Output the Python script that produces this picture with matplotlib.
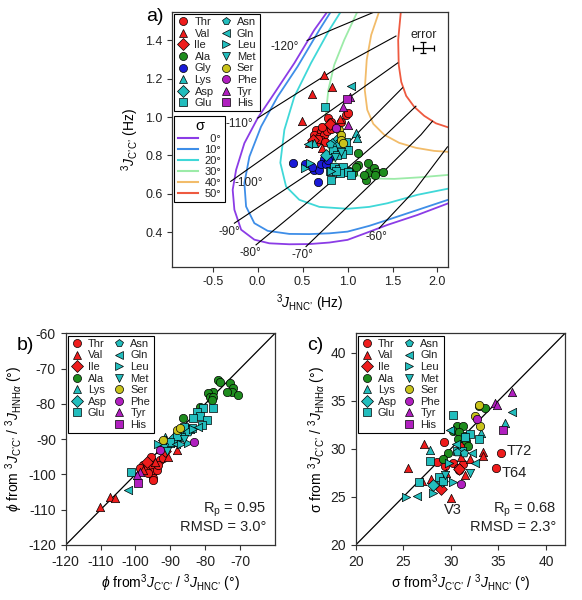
import matplotlib.pyplot as plt
from matplotlib.lines import Line2D

plt.rcParams['font.family'] = ['Liberation Sans', 'DejaVu Sans']
plt.rcParams['mathtext.fontset'] = 'custom'
plt.rcParams['mathtext.rm'] = 'Liberation Sans'
plt.rcParams['mathtext.it'] = 'Liberation Sans:italic'
plt.rcParams['mathtext.sf'] = 'Liberation Sans'
plt.rcParams['axes.unicode_minus'] = False

# residue types and their legend styles
residues = ['Thr', 'Val', 'Ile', 'Ala', 'Gly', 'Lys', 'Asp', 'Glu',
            'Asn', 'Gln', 'Leu', 'Met', 'Ser', 'Phe', 'Tyr', 'His']
markers = ['o', '^', 'D', 'o', 'o', '^', 'D', 's',
           'p', '<', '>', 'v', 'o', 'o', '^', 's']
red, green, blue, cyan, olive, mag = '#ee1c1c', '#1e8c1e', '#1a1ad6', '#22bdbd', '#c9c31b', '#b01fbf'
colors = [red, red, red, green, blue, cyan, cyan, cyan,
          cyan, cyan, cyan, cyan, olive, mag, mag, mag]

# ---- panel a: 3J(C'C') vs 3J(HNC') (Hz) ----
thr_a = [(0.78, 0.995), (0.815, 0.977), (0.78, 0.951), (0.65, 0.934), (0.70, 0.925), (0.63, 0.908),
         (0.685, 0.899), (0.74, 0.908), (0.70, 0.882), (0.65, 0.864), (0.98, 1.012), (1.00, 1.021),
         (0.93, 0.977), (0.77, 0.93), (0.72, 0.95), (0.82, 0.94), (0.67, 0.885), (0.75, 0.87)]
val_a = [(0.733, 1.218), (0.824, 1.158), (0.602, 1.119), (0.493, 0.981), (0.92, 0.99),
         (0.574, 0.864), (0.716, 0.838)]
ile_a = [(0.80, 0.965), (0.62, 0.88)]
ala_a = [(1.111, 0.812), (0.889, 0.809), (1.0, 0.716), (1.111, 0.751), (1.222, 0.760), (1.241, 0.716),
         (1.297, 0.734), (1.316, 0.716), (1.389, 0.716), (1.204, 0.673), (1.056, 0.708), (1.093, 0.742),
         (1.30, 0.70), (1.18, 0.70), (1.02, 0.72)]
gly_a = [(0.389, 0.763), (0.53, 0.756), (0.63, 0.725), (0.686, 0.725), (0.674, 0.664), (0.741, 0.781),
         (0.815, 0.798), (0.704, 0.756), (0.76, 0.756), (0.778, 0.777), (0.60, 0.74)]
lys_a = [(1.093, 0.917), (1.10, 0.89), (0.63, 0.864), (0.86, 0.87), (0.95, 0.84)]
asp_a = [(0.88, 0.88), (0.76, 0.80), (0.83, 0.86)]
glu_a = [(0.749, 1.055), (0.815, 0.673), (0.80, 0.72), (0.85, 0.74), (0.90, 0.73), (0.95, 0.74),
         (1.0, 0.715), (1.04, 0.70), (0.92, 0.71), (0.87, 0.72), (0.96, 0.85), (1.0, 0.83),
         (0.94, 0.81), (0.98, 0.87), (0.84, 0.83), (0.88, 0.80)]
asn_a = [(0.80, 0.86), (0.90, 0.86)]
gln_a = [(1.038, 1.163), (0.56, 0.86), (0.92, 0.88)]
leu_a = [(0.53, 0.734), (0.82, 0.72), (0.58, 0.76)]
met_a = [(0.86, 0.79), (0.93, 0.82)]
ser_a = [(0.908, 0.934), (0.926, 0.908), (0.926, 0.882), (0.944, 0.864)]
phe_a = [(0.871, 0.943)]
tyr_a = [(1.027, 1.107), (0.952, 1.052), (1.0, 0.96)]
his_a = [(0.99, 1.095)]

# iso-sigma contours (HNC', C'C')
sigma_labels = ['  0°', '10°', '20°', '30°', '40°', '50°']
sigma_colors = ['#8b3ce6', '#3e8ee8', '#3fd8d8', '#9ceba8', '#f2bc6a', '#ee5a40']
sig0 = [(0.778, 1.552), (0.630, 1.455), (0.408, 1.282), (0.186, 1.125), (0.0, 0.995), (-0.148, 0.864),
        (-0.240, 0.725), (-0.278, 0.621), (-0.259, 0.517), (-0.184, 0.413), (-0.037, 0.361),
        (0.130, 0.342), (0.352, 0.337), (0.574, 0.338), (0.797, 0.346), (1.0, 0.360), (1.241, 0.402),
        (1.444, 0.438), (1.778, 0.490), (2.15, 0.556)]
sig10 = [(0.816, 1.552), (0.686, 1.455), (0.444, 1.264), (0.222, 1.107), (0.038, 0.951), (-0.092, 0.794),
         (-0.148, 0.656), (-0.129, 0.534), (-0.037, 0.447), (0.111, 0.407), (0.352, 0.391),
         (0.574, 0.390), (0.797, 0.394), (1.0, 0.403), (1.241, 0.433), (1.444, 0.464), (1.778, 0.516),
         (2.15, 0.574)]
sig20 = [(0.927, 1.552), (0.797, 1.455), (0.593, 1.282), (0.408, 1.107), (0.297, 0.934), (0.252, 0.762),
         (0.316, 0.638), (0.463, 0.569), (0.686, 0.532), (1.0, 0.522), (1.241, 0.532), (1.444, 0.551),
         (1.778, 0.595), (2.15, 0.630)]
sig30 = [(1.111, 1.552), (0.963, 1.403), (0.852, 1.273), (0.786, 1.142), (0.758, 1.012), (0.763, 0.908),
         (0.808, 0.803), (0.908, 0.735), (1.074, 0.699), (1.297, 0.680), (1.519, 0.678), (1.797, 0.686),
         (2.15, 0.70)]
sig40 = [(1.352, 1.552), (1.263, 1.429), (1.213, 1.299), (1.191, 1.142), (1.219, 1.038), (1.286, 0.965),
         (1.408, 0.908), (1.574, 0.866), (1.760, 0.840), (1.963, 0.824), (2.15, 0.818)]
sig50 = [(1.593, 1.552), (1.563, 1.403), (1.569, 1.273), (1.597, 1.184), (1.652, 1.111), (1.741, 1.054),
         (1.852, 1.007), (1.982, 0.968), (2.15, 0.942)]

# iso-phi lines and their labels
phi_labels = ['-120°', '-110°', '-100°', '-90°', '-80°', '-70°', '-60°']
phi_m120 = [(0.55, 1.400), (0.852, 1.461), (1.316, 1.552)]
phi_m110 = [(0.0, 0.995), (0.852, 1.247), (1.538, 1.423)]
phi_m100 = [(-0.30, 0.665), (0.852, 1.047), (1.558, 1.283)]
phi_m90 = [(-0.259, 0.447), (0.852, 0.794), (1.611, 1.153)]
phi_m80 = [(-0.018, 0.334), (0.519, 0.542), (1.427, 0.908), (1.760, 1.057)]
phi_m70 = [(0.538, 0.325), (1.241, 0.642), (1.816, 0.908), (1.944, 0.979)]
phi_m60 = [(1.352, 0.421), (1.741, 0.615), (2.111, 0.845)]
phi_label_x = [0.302, -0.209, -0.103, -0.314, -0.081, 0.497, 1.316]
phi_label_y = [1.367, 0.965, 0.657, 0.402, 0.292, 0.282, 0.373]

err_x, err_y, err_dx, err_dy = 1.844, 1.363, 0.117, 0.028

# ---- panel b: phi from C'C'/HNC' vs phi from C'C'/HNHa ----
thr_b = [(-95.6, -95), (-97.7, -97.3), (-96.8, -98), (-95.4, -97.3), (-94.9, -99.2), (-93.9, -98.8),
         (-95.1, -101.1), (-95.1, -101.6), (-93, -95.9), (-92, -95.4), (-93.4, -97.3), (-96.5, -99.5),
         (-98.7, -98.3)]
val_b = [(-110.2, -109.3), (-107.3, -106.3), (-105.9, -106.8), (-93, -92.9), (-90.6, -95.2),
         (-88.2, -93.1), (-89.1, -90.7), (-97.7, -98.8), (-94.5, -96.5)]
ile_b = [(-96.8, -96.4), (-91.5, -93.5)]
ala_b = [(-76.3, -73.2), (-75.8, -73.7), (-72.9, -74.2), (-71.9, -75.6), (-72.4, -76.5), (-73.9, -76.5),
         (-70.5, -77.5), (-77.7, -76.5), (-79.1, -77), (-78.6, -78.1), (-77.7, -78), (-78.2, -78.9),
         (-81.5, -80.8), (-86.3, -84.1)]
gly_b = []
lys_b = [(-91.5, -89.5), (-88, -88.5), (-84.5, -87), (-90, -91)]
asp_b = [(-89, -89.8), (-86.5, -88)]
glu_b = [(-101.4, -99.2), (-80.6, -81.3), (-77.7, -81.3), (-82.5, -82.2), (-81.5, -83.4), (-83.4, -84.1),
         (-79.6, -84.6), (-83.9, -86.9), (-85.3, -87.4), (-86.8, -89.3), (-88.2, -89.1), (-90.1, -90.7),
         (-81, -86), (-86, -86.5)]
asn_b = [(-85, -88), (-91.8, -91.6)]
gln_b = [(-102, -104.4), (-92.5, -90.2), (-82, -86.5), (-88.5, -91.5)]
leu_b = [(-93.5, -91.5), (-83.5, -87), (-87, -91.5), (-85, -91)]
met_b = [(-86, -90), (-91, -93.5)]
ser_b = [(-92, -90.2), (-88.2, -87.4), (-87.2, -86.9)]
phe_b = [(-93, -93), (-83.1, -90.7)]
tyr_b = [(-98.7, -99.2), (-99.7, -100.2)]
his_b = [(-99.2, -102.3)]

# ---- panel c: sigma from C'C'/HNC' vs sigma from C'C'/HNHa ----
thr_c = [(29.3, 30.7), (28.5, 28.6), (30.2, 28.5), (31.3, 28.4), (30.9, 27.8), (31.1, 30.3),
         (35.3, 29.6), (34.7, 28.0), (29.4, 28.2), (30.8, 28.0)]
val_c = [(25.5, 28.0), (27.2, 30.5), (27.0, 26.6), (27.9, 26.9), (30.0, 24.9), (33.4, 29.7),
         (33.4, 29.2), (31.5, 27.3), (29.5, 27.5), (31.1, 29.1), (32.0, 28.9)]
ile_c = [(29.0, 25.8), (30.9, 27.9)]
ala_c = [(30.6, 32.4), (31.3, 32.4), (30.2, 31.8), (30.9, 31.7), (31.5, 31.3), (31.6, 30.8),
         (31.8, 30.3), (29.7, 29.6), (33.0, 34.4), (33.6, 34.2), (29.2, 28.9), (30.8, 31.0)]
gly_c = []
lys_c = [(27.8, 29.9), (35.7, 32.7), (33.2, 31.6)]
asp_c = [(28.1, 26.2), (29.1, 26.6)]
glu_c = [(30.2, 33.5), (27.8, 28.7), (26.6, 26.5), (28.8, 27.1), (29.2, 26.6), (30.6, 29.8),
         (31.2, 29.8), (32.0, 31.5), (33.0, 31.0), (31.5, 31.2)]
asn_c = [(30.6, 29.7), (31.4, 29.6)]
gln_c = [(36.4, 33.8), (29.9, 32.0), (26.4, 25.1), (32.5, 28.5), (32.2, 29.6), (30.5, 30.5)]
leu_c = [(25.3, 25.0), (28.1, 25.4), (30.2, 26.5), (29.8, 28.5)]
met_c = [(32.0, 27.5), (29.4, 27.3)]
ser_c = [(33.0, 34.5), (32.5, 33.4), (33.1, 32.4)]
phe_c = [(32.8, 33.1), (31.1, 26.3)]
tyr_c = [(34.6, 34.8), (34.8, 34.6), (36.4, 35.9)]
his_c = [(35.5, 32.0)]
outliers = ['T72', 'T64', 'V3']
outlier_x = [35.9, 35.3, 29.3]
outlier_y = [29.8, 27.5, 23.6]

panel_a = [thr_a, val_a, ile_a, ala_a, gly_a, lys_a, asp_a, glu_a,
           asn_a, gln_a, leu_a, met_a, ser_a, phe_a, tyr_a, his_a]
panel_b = [thr_b, val_b, ile_b, ala_b, gly_b, lys_b, asp_b, glu_b,
           asn_b, gln_b, leu_b, met_b, ser_b, phe_b, tyr_b, his_b]
panel_c = [thr_c, val_c, ile_c, ala_c, gly_c, lys_c, asp_c, glu_c,
           asn_c, gln_c, leu_c, met_c, ser_c, phe_c, tyr_c, his_c]


def draw_points(ax, groups, size):
    for name, m, c, pts in zip(residues, markers, colors, groups):
        if not pts:
            continue
        xs = [p[0] for p in pts]
        ys = [p[1] for p in pts]
        ax.scatter(xs, ys, s=size, marker=m, c=c, edgecolors='black', linewidths=0.5, zorder=3)


def residue_legend(ax, with_gly, anchor, fs):
    handles, labels = [], []
    for name, m, c in zip(residues, markers, colors):
        if name == 'Gly' and not with_gly:
            continue
        handles.append(Line2D([], [], ls='none', marker=m, mfc=c, mec='black', mew=0.5, ms=5.8))
        labels.append(name)
        if name == 'Glu' and not with_gly:
            handles.append(Line2D([], [], ls='none'))
            labels.append('')
    leg = ax.legend(handles, labels, ncol=2, loc='upper left', bbox_to_anchor=anchor, fontsize=fs,
                    frameon=True, fancybox=False, edgecolor='black', framealpha=1,
                    handlelength=1.0, handletextpad=0.5, columnspacing=0.6, labelspacing=0.14,
                    borderpad=0.3, borderaxespad=0.2)
    leg.get_frame().set_linewidth(0.8)
    for t in leg.get_texts():
        t.set_color('#222222')
    return leg


def style_axes(ax, fs):
    for s in ax.spines.values():
        s.set_linewidth(0.9)
        s.set_color('#333333')
    ax.tick_params(labelsize=fs, length=3.5, width=0.8, color='#333333', labelcolor='#222222')


fig = plt.figure(figsize=(5.82, 6.0), dpi=100)

# ---------- panel a ----------
ax = fig.add_axes([0.296, 0.5555, 0.4742, 0.425])
for curve, c in zip([sig0, sig10, sig20, sig30, sig40, sig50], sigma_colors):
    ax.plot([p[0] for p in curve], [p[1] for p in curve], color=c, lw=1.3, zorder=1)
for line in [phi_m120, phi_m110, phi_m100, phi_m90, phi_m80, phi_m70, phi_m60]:
    ax.plot([p[0] for p in line], [p[1] for p in line], color='black', lw=0.8, zorder=2)
for lab, lx, ly in zip(phi_labels, phi_label_x, phi_label_y):
    ax.text(lx, ly, lab, fontsize=8.5, ha='center', va='center', color='#222222')
draw_points(ax, panel_a, 36)
ax.errorbar([err_x], [err_y], xerr=[err_dx], yerr=[err_dy], color='black', lw=0.9, capsize=2.5,
            capthick=0.9)
ax.text(err_x, err_y + 0.065, 'error', fontsize=9, ha='center', va='center', color='#222222')
ax.set_xlim(-0.95, 2.12)
ax.set_ylim(0.22, 1.55)
ax.set_xticks([-0.5, 0.0, 0.5, 1.0, 1.5, 2.0])
ax.set_yticks([0.4, 0.6, 0.8, 1.0, 1.2, 1.4])
ax.xaxis.set_major_formatter('{x:.1f}')
ax.yaxis.set_major_formatter('{x:.1f}')
style_axes(ax, 9)
ax.set_xlabel('$^3J_{\\mathrm{HNC\u2019}}$ (Hz)', fontsize=10, labelpad=3)
ax.set_ylabel('$^3J_{\\mathrm{C\u2019C\u2019}}$ (Hz)', fontsize=10, labelpad=3)
leg1 = residue_legend(ax, True, (0.0, 1.0), 8)
ax.add_artist(leg1)
sig_handles = [Line2D([], [], color=c, lw=1.5) for c in sigma_colors]
leg2 = ax.legend(sig_handles, sigma_labels, title='σ', loc='upper left', bbox_to_anchor=(0.0, 0.60),
                 fontsize=8, title_fontsize=10.5, frameon=True, fancybox=False, edgecolor='black',
                 framealpha=1, handlelength=1.8, handletextpad=0.6, labelspacing=0.08, borderpad=0.3,
                 borderaxespad=0.2)
leg2.get_frame().set_linewidth(0.8)
for t in leg2.get_texts():
    t.set_color('#222222')
fig.text(0.266, 0.972, 'a)', fontsize=14, ha='center', va='center')

# ---------- panel b ----------
bx = fig.add_axes([0.1129, 0.0917, 0.3596, 0.3528])
bx.plot([-120, -60], [-120, -60], color='black', lw=0.9, zorder=1)
draw_points(bx, panel_b, 36)
bx.set_xlim(-120, -60)
bx.set_ylim(-120, -60)
bx.set_xticks([-120, -110, -100, -90, -80, -70])
bx.set_yticks([-120, -110, -100, -90, -80, -70, -60])
style_axes(bx, 10)
bx.set_xlabel('$\\phi$ from$^3J_{\\mathrm{C\u2019C\u2019}}$ / $^3J_{\\mathrm{HNC\u2019}}$ (°)', fontsize=10,
              labelpad=3)
bx.set_ylabel('$\\phi$ from $^3J_{\\mathrm{C\u2019C\u2019}}$ / $^3J_{\\mathrm{HNH}\\alpha}$ (°)', fontsize=10,
              labelpad=2)
residue_legend(bx, False, (0.0, 1.0), 8)
bx.text(0.96, 0.168, 'R$_\\mathrm{p}$ = 0.95', transform=bx.transAxes, ha='right', va='center',
        fontsize=10.5, color='#222222')
bx.text(0.96, 0.083, 'RMSD = 3.0°', transform=bx.transAxes, ha='right', va='center', fontsize=10.5,
        color='#222222')
fig.text(0.043, 0.425, 'b)', fontsize=14, ha='center', va='center')

# ---------- panel c ----------
cx = fig.add_axes([0.6112, 0.0917, 0.3596, 0.3528])
cx.plot([20, 42], [20, 42], color='black', lw=0.9, zorder=1)
draw_points(cx, panel_c, 36)
for lab, lx, ly in zip(outliers, outlier_x, outlier_y):
    cx.text(lx, ly, lab, fontsize=10.5, ha='left', va='center', color='#222222')
cx.set_xlim(20, 42)
cx.set_ylim(20, 42)
cx.set_xticks([20, 25, 30, 35, 40])
cx.set_yticks([20, 25, 30, 35, 40])
style_axes(cx, 10)
cx.set_xlabel('σ from$^3J_{\\mathrm{C\u2019C\u2019}}$ / $^3J_{\\mathrm{HNC\u2019}}$ (°)', fontsize=10, labelpad=3)
cx.set_ylabel('σ from $^3J_{\\mathrm{C\u2019C\u2019}}$ / $^3J_{\\mathrm{HNH}\\alpha}$ (°)', fontsize=10,
              labelpad=2)
residue_legend(cx, False, (0.0, 1.0), 8)
cx.text(0.96, 0.165, 'R$_\\mathrm{p}$ = 0.68', transform=cx.transAxes, ha='right', va='center',
        fontsize=10.5, color='#222222')
cx.text(0.96, 0.083, 'RMSD = 2.3°', transform=cx.transAxes, ha='right', va='center', fontsize=10.5,
        color='#222222')
fig.text(0.541, 0.425, 'c)', fontsize=14, ha='center', va='center')

fig.savefig('out.png', dpi=100)
